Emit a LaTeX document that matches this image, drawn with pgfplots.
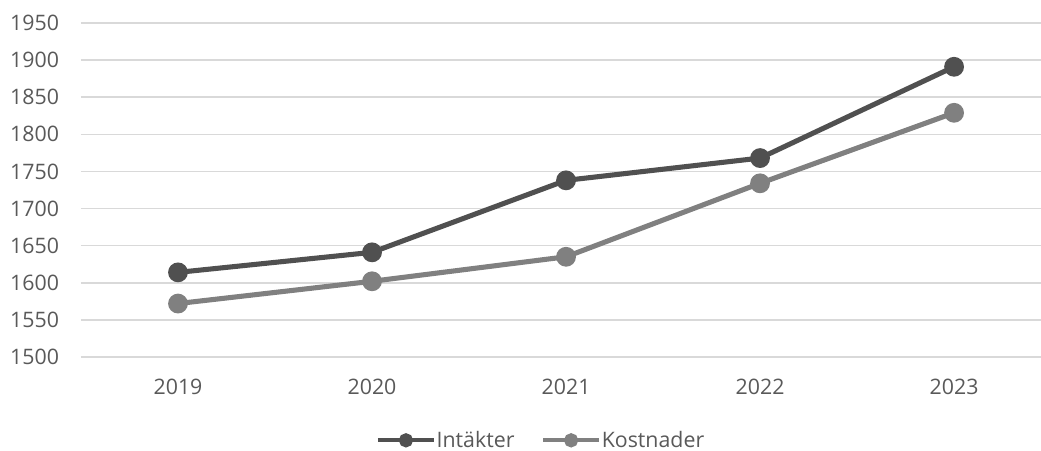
\documentclass[border=0pt]{standalone}
\usepackage{fontspec}
\setmainfont{Open Sans}
\usepackage{pgfplots}
\pgfplotsset{compat=1.18}

\definecolor{txt}{HTML}{595959}
\definecolor{gridc}{HTML}{D9D9D9}
\definecolor{inta}{HTML}{505050}
\definecolor{kost}{HTML}{808080}

\begin{document}
\begin{tikzpicture}
\begin{axis}[
    scale only axis,
    width=720pt, height=250.5pt,
    xmin=-0.5, xmax=4.448,
    ymin=1500, ymax=1950,
    ytick={1500,1550,...,1950},
    xtick={0,1,2,3,4},
    xticklabels={2019,2020,2021,2022,2023},
    axis line style={draw=none},
    tick style={draw=none},
    ymajorgrids,
    grid style={gridc, line width=1.1pt},
    /pgf/number format/assume math mode=true,
    /pgf/number format/1000 sep={},
    ticklabel style={font=\fontsize{16}{19}\selectfont, text=txt},
    yticklabel style={xshift=-13pt},
    xticklabel style={yshift=-13pt},
    clip=false,
    legend columns=2,
    legend style={draw=none, at={(0.4796,-0.2495)}, anchor=center,
        font=\fontsize{16}{19}\selectfont, text=txt,
        nodes={inner ysep=1pt},
        /tikz/every even column/.append style={column sep=18pt}},
    legend image code/.code={
        \draw[#1, line width=3pt, mark size=3.8pt, mark repeat=2, mark phase=2]
            plot coordinates {(0pt,0pt) (21pt,0pt) (42pt,0pt)};
    },
]
\addplot[inta, line width=3.8pt, mark=*, mark size=5.5pt, mark options={solid}] coordinates {
    (0,1614) (1,1641) (2,1738) (3,1768) (4,1891)
};
\addlegendentry{\hspace{-1.5pt}Intäkter}
\addplot[kost, line width=3.8pt, mark=*, mark size=5.5pt, mark options={solid}] coordinates {
    (0,1572) (1,1602) (2,1635) (3,1734) (4,1829)
};
\addlegendentry{\hspace{-1.5pt}Kostnader}
\end{axis}
\pgfresetboundingbox
\path ([xshift=-60.75pt, yshift=-70.5pt]current axis.south west) rectangle ([yshift=17.25pt]current axis.north east);
\end{tikzpicture}
\end{document}
